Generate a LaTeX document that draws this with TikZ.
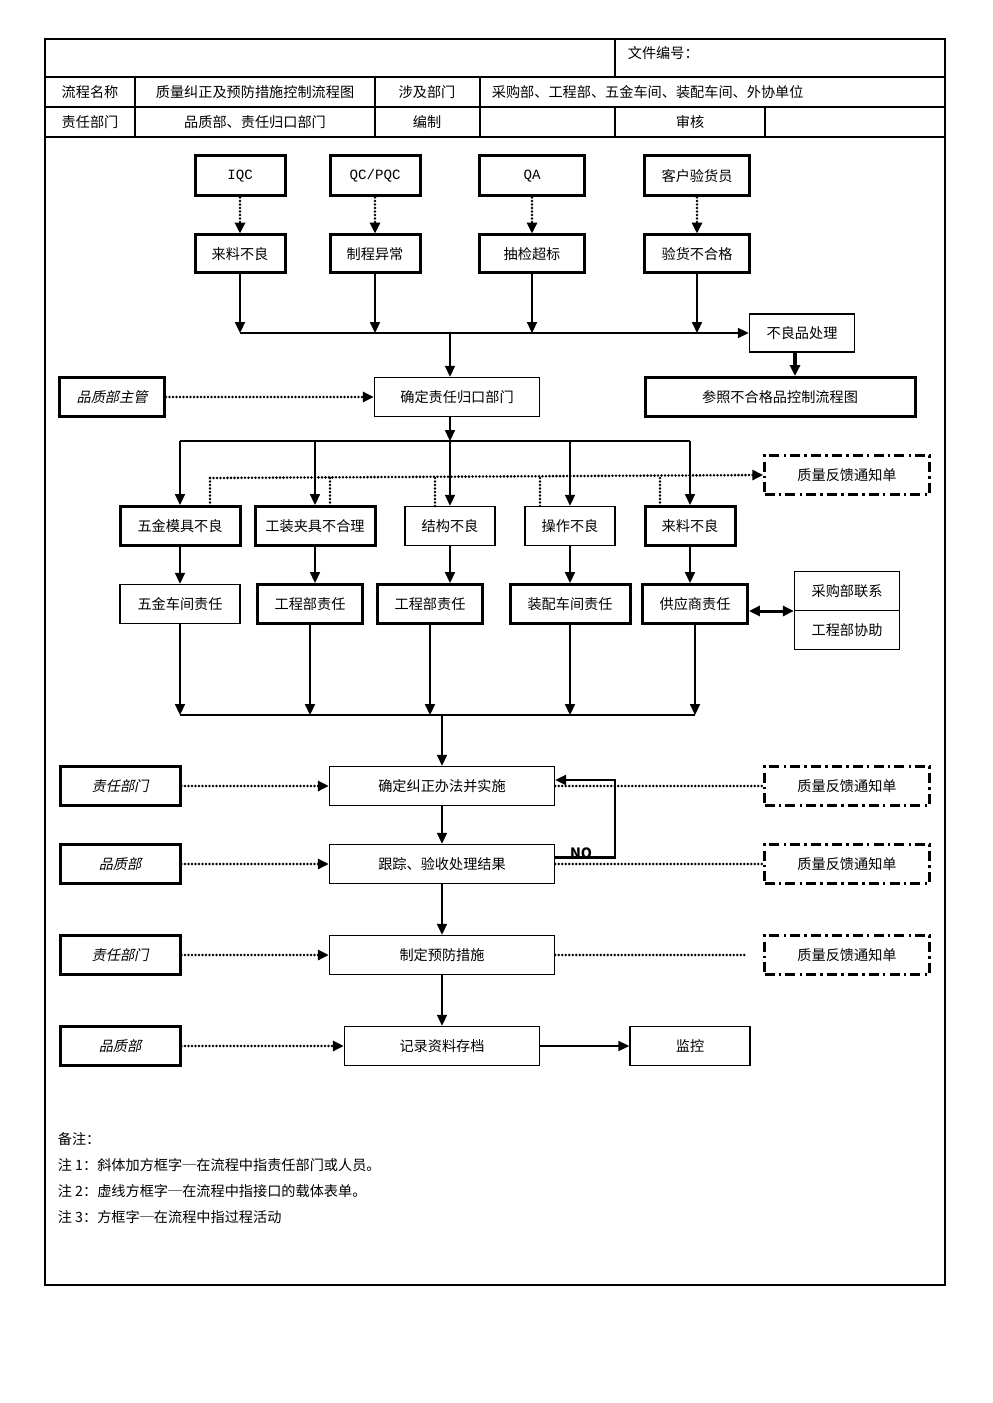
\documentclass[tikz,border=0pt]{standalone}
\usepackage{fontspec}
\setmainfont{Noto Sans CJK SC}
\setmonofont{Liberation Mono}
\newfontfamily\slantcjk[FakeSlant=0.22]{Noto Sans CJK SC}
\usetikzlibrary{arrows.meta}

\begin{document}
\begin{tikzpicture}[x = 0.6pt, y = -0.6pt,
  every node/.style = {font = \fontsize{8.5}{10}\selectfont},
  box/.style = {draw, line width = 0.9pt, minimum height = 23.4pt, inner sep = 1pt},
  heavybox/.style = {box, line width = 1.8pt},
  rolebox/.style = {heavybox, font = \fontsize{8.5}{10}\selectfont\slantcjk},
  formbox/.style = {draw, line width = 1.6pt, dash pattern = on 6pt off 2.5pt on 1.5pt off 2.5pt,
    minimum width = 99pt, minimum height = 23.4pt},
  flow/.style = {line width = 0.9pt, -{Triangle[length = 6.5pt, width = 6pt]}},
  link/.style = {line width = 1.7pt, line cap = round, dash pattern = on 0pt off 2.1pt},
  linkarrow/.style = {link, -{Triangle[length = 6.5pt, width = 6pt]}}]

  \useasboundingbox[fill = white] (0, 0) rectangle (992, 1403);

  % Frame
  \draw[line width = 0.9pt] (45, 39) rectangle (945, 1285);
  \draw[line width = 0.9pt] (45, 77) -- (945, 77);
  \draw[line width = 0.9pt] (45, 107) -- (945, 107);
  \draw[line width = 0.9pt] (45, 137) -- (945, 137);
  \draw[line width = 0.9pt] (615, 39) -- (615, 77);
  \draw[line width = 0.9pt] (135, 77) -- (135, 137);
  \draw[line width = 0.9pt] (375, 77) -- (375, 137);
  \draw[line width = 0.9pt] (480, 77) -- (480, 137);
  \draw[line width = 0.9pt] (615, 107) -- (615, 137);
  \draw[line width = 0.9pt] (765, 107) -- (765, 137);

  % Header
  \node[anchor = west] (fileno) at (622, 53) {文件编号：};
  \node (namehead) at (90, 92) {流程名称};
  \node (name) at (255, 92) {质量纠正及预防措施控制流程图};
  \node (depthead) at (427, 92) {涉及部门};
  \node[anchor = west] (depts) at (486, 92) {采购部、工程部、五金车间、装配车间、外协单位};
  \node (ownhead) at (90, 122) {责任部门};
  \node (own) at (255, 122) {品质部、责任归口部门};
  \node (author) at (427, 122) {编制};
  \node (review) at (690, 122) {审核};

  % Sources
  \node[heavybox, minimum width = 54pt, minimum height = 24pt, font = \fontsize{8.5}{10}\selectfont\ttfamily] (iqc) at (240, 176) {IQC};
  \node[heavybox, minimum width = 54pt, minimum height = 24pt, font = \fontsize{8.5}{10}\selectfont\ttfamily] (pqc) at (375, 176) {QC/PQC};
  \node[heavybox, minimum width = 63pt, minimum height = 24pt, font = \fontsize{8.5}{10}\selectfont\ttfamily] (qa) at (532, 176) {QA};
  \node[heavybox, minimum width = 63pt, minimum height = 24pt] (cust) at (697, 176) {客户验货员};

  \node[heavybox, minimum width = 54pt, minimum height = 22.8pt] (bad1) at (240, 254) {来料不良};
  \node[heavybox, minimum width = 54pt, minimum height = 22.8pt] (bad2) at (375, 254) {制程异常};
  \node[heavybox, minimum width = 63pt, minimum height = 22.8pt] (bad3) at (532, 254) {抽检超标};
  \node[heavybox, minimum width = 63pt, minimum height = 22.8pt] (bad4) at (697, 254) {验货不合格};

  \draw[linkarrow] (iqc) -- (bad1);
  \draw[linkarrow] (pqc) -- (bad2);
  \draw[linkarrow] (qa) -- (bad3);
  \draw[linkarrow] (cust) -- (bad4);

  % Merge into handling
  \node[box, minimum width = 63pt, minimum height = 22.8pt] (handle) at (802, 333) {不良品处理};
  \node[heavybox, minimum width = 162pt] (refer) at (780, 397) {参照不合格品控制流程图};
  \node[box, minimum width = 99pt] (decide) at (457, 397) {确定责任归口部门};
  \node[rolebox, minimum width = 63pt] (qmgr) at (112, 397) {品质部主管};

  \coordinate (merge) at (240, 333);
  \coordinate (split) at (450, 333);
  \draw[flow] (merge) -- (handle.west);
  \foreach \n in {bad1, bad2, bad3, bad4}
    \draw[flow] (\n.south) -- (\n.south |- merge);
  \draw[flow, line width = 2pt] (handle.south -| 795, 0) -- (795, 0 |- refer.north);
  \draw[flow] (split) -- (split |- decide.north);
  \draw[linkarrow] (qmgr) -- (decide);

  % Causes
  \node[heavybox, minimum width = 72pt] (cause1) at (180, 526) {五金模具不良};
  \node[heavybox, minimum width = 72pt] (cause2) at (315, 526) {工装夹具不合理};
  \node[box, minimum width = 54pt] (cause3) at (450, 526) {结构不良};
  \node[box, minimum width = 54pt] (cause4) at (570, 526) {操作不良};
  \node[heavybox, minimum width = 54pt] (cause5) at (690, 526) {来料不良};
  \node[formbox] (form1) at (847, 475) {质量反馈通知单};

  \coordinate (fork) at (180, 441);
  \coordinate (forkend) at (690, 441);
  \draw[line width = 0.9pt] (fork) -- (forkend);
  \draw[flow] (split |- decide.south) -- (split |- fork);
  \foreach \n in {cause1, cause2, cause3, cause4, cause5}
    \draw[flow] (\n.north |- fork) -- (\n.north);

  \coordinate (notify) at (210, 478);
  \draw[linkarrow] (notify) -- (form1.west);
  \foreach \x in {210, 330, 435, 540, 660}
    \draw[link] (\x, 478) -- (\x, 507);

  % Responsibility
  \node[box, minimum width = 72pt] (duty1) at (180, 604) {五金车间责任};
  \node[heavybox, minimum width = 63pt] (duty2) at (310, 604) {工程部责任};
  \node[heavybox, minimum width = 63pt] (duty3) at (430, 604) {工程部责任};
  \node[heavybox, minimum width = 72pt] (duty4) at (570, 604) {装配车间责任};
  \node[heavybox, minimum width = 63pt] (duty5) at (695, 604) {供应商责任};
  \node[box, minimum width = 63pt] (buy) at (847, 591) {采购部联系};
  \node[box, minimum width = 63pt] (assist) at (847, 630) {工程部协助};

  \foreach \n in {1, ..., 5}
    \draw[flow] (cause\n.south) -- (cause\n.south |- duty\n.north);
  \draw[line width = 1.8pt, {Triangle[length = 6.5pt, width = 6pt]}-{Triangle[length = 6.5pt, width = 6pt]}]
    (duty5.east |- 0, 611) -- (buy.west |- 0, 611);

  \coordinate (collect) at (180, 715);
  \coordinate (collectend) at (695, 715);
  \draw[line width = 0.9pt] (collect) -- (collectend);
  \foreach \n in {1, ..., 5}
    \draw[flow] (duty\n.south) -- (duty\n.south |- collect);

  % Correction steps
  \node[box, minimum width = 135pt] (fix) at (442, 786) {确定纠正办法并实施};
  \node[box, minimum width = 135pt] (track) at (442, 864) {跟踪、验收处理结果};
  \node[box, minimum width = 135pt] (prevent) at (442, 955) {制定预防措施};
  \node[box, minimum width = 117pt] (record) at (442, 1046) {记录资料存档};
  \node[box, minimum width = 72pt] (watch) at (690, 1046) {监控};

  \node[rolebox, minimum width = 72pt] (role1) at (120, 786) {责任部门};
  \node[rolebox, minimum width = 72pt] (role2) at (120, 864) {品质部};
  \node[rolebox, minimum width = 72pt] (role3) at (120, 955) {责任部门};
  \node[rolebox, minimum width = 72pt] (role4) at (120, 1046) {品质部};

  \node[formbox] (form2) at (847, 786) {质量反馈通知单};
  \node[formbox] (form3) at (847, 864) {质量反馈通知单};
  \node[formbox] (form4) at (847, 955) {质量反馈通知单};
  \coordinate (form4gap) at (745, 955);

  \draw[flow] (fix.north |- collect) -- (fix.north);
  \draw[flow] (fix) -- (track);
  \draw[flow] (track) -- (prevent);
  \draw[flow] (prevent) -- (record);
  \draw[flow] (record) -- (watch);
  \draw[flow, line width = 1.4pt] ([yshift = 4pt]track.east) -- ++(60, 0) |- ([yshift = 3.6pt]fix.east);
  \node[font = \fontsize{8.5}{9}\selectfont\bfseries] (no) at (581, 853) {NO};

  \draw[linkarrow] (role1) -- (fix);
  \draw[linkarrow] (role2) -- (track);
  \draw[linkarrow] (role3) -- (prevent);
  \draw[linkarrow] (role4) -- (record);
  \draw[link] (fix) -- (form2);
  \draw[link] (track) -- (form3);
  \draw[link] (prevent.east) -- (form4gap);

  % Notes
  \node[anchor = west] (note0) at (52, 1139) {备注：};
  \node[anchor = west] (note1) at (52, 1165) {注 1：斜体加方框字─在流程中指责任部门或人员。};
  \node[anchor = west] (note2) at (52, 1191) {注 2：虚线方框字─在流程中指接口的载体表单。};
  \node[anchor = west] (note3) at (52, 1217) {注 3：方框字─在流程中指过程活动};

\end{tikzpicture}
\end{document}
